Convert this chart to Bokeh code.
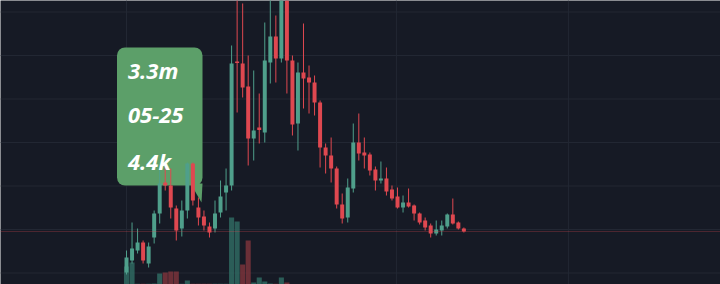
from bokeh.plotting import figure
from bokeh.models import Range1d, Span, BoxAnnotation, PolyAnnotation, Label, ColumnDataSource
from bokeh.embed import file_html
from bokeh.resources import INLINE

# ---- data (market cap in $m, volume in $k) ----
idx = list(range(1, 63))
opens = [0.28, 0.40, 0.50, 0.58, 0.37, 0.63, 0.87, 1.18, 1.15, 0.92,
         0.72, 0.90, 1.37, 0.93, 0.84, 0.74, 0.72, 0.88, 1.08, 1.15,
         2.39, 2.37, 2.14, 1.62, 1.73, 1.68, 2.38, 2.64, 2.42, 3.20,
         2.40, 1.77, 2.28, 2.23, 2.18, 1.98, 1.53, 1.45, 1.32, 0.96,
         0.83, 1.12, 1.58, 1.48, 1.46, 1.31, 1.20, 1.22, 1.11, 1.04,
         0.93, 0.98, 0.95, 0.87, 0.80, 0.75, 0.67, 0.70, 0.74, 0.86,
         0.78, 0.72]
closes = [0.43, 0.52, 0.58, 0.40, 0.54, 0.87, 1.17, 1.15, 0.93, 0.70,
          0.90, 1.37, 1.00, 0.83, 0.75, 0.68, 0.87, 1.04, 1.15, 2.37,
          2.375, 2.13, 1.62, 1.70, 1.705, 2.40, 2.64, 2.42, 3.20, 2.40,
          1.76, 2.28, 2.22, 2.18, 1.98, 1.53, 1.45, 1.32, 0.96, 0.82,
          1.13, 1.58, 1.47, 1.45, 1.30, 1.20, 1.22, 1.09, 1.02, 0.93,
          0.98, 0.94, 0.87, 0.78, 0.73, 0.67, 0.71, 0.75, 0.86, 0.77,
          0.72, 0.69]
highs = [0.50, 0.78, 0.72, 0.60, 0.58, 0.90, 1.35, 1.35, 1.32, 0.95,
         1.00, 1.38, 1.38, 1.03, 0.90, 0.78, 1.00, 1.20, 1.32, 2.55,
         3.10, 2.97, 2.45, 2.30, 2.07, 2.78, 3.05, 2.85, 3.40, 3.40,
         2.45, 2.38, 2.77, 2.35, 2.25, 2.00, 1.57, 1.63, 1.34, 1.07,
         1.22, 1.77, 1.87, 1.63, 1.48, 1.34, 1.39, 1.33, 1.15, 1.13,
         1.05, 1.12, 0.96, 0.88, 0.83, 0.77, 0.80, 0.80, 0.87, 1.02,
         0.79, 0.73]
lows = [0.26, 0.37, 0.47, 0.37, 0.33, 0.57, 0.77, 1.10, 0.82, 0.60,
        0.64, 0.82, 0.95, 0.75, 0.70, 0.63, 0.68, 0.83, 0.90, 1.10,
        1.88, 2.03, 1.35, 1.40, 1.57, 1.58, 2.17, 2.18, 2.38, 2.07,
        1.65, 1.50, 1.92, 1.87, 1.85, 1.33, 1.27, 1.18, 0.92, 0.77,
        0.78, 1.08, 1.40, 1.32, 1.25, 1.10, 1.17, 1.05, 1.00, 0.92,
        0.88, 0.93, 0.80, 0.76, 0.70, 0.63, 0.65, 0.65, 0.72, 0.76,
        0.71, 0.68]
volumes = [7.2, 8.8, 0.3, 0.3, 0.3, 0.4, 4.4, 4.8, 5.2, 5.2,
           0.3, 1.6, 0.3, 0.3, 0.3, 0.3, 0.3, 0.3, 0.3, 26.8,
           25.2, 8.0, 17.6, 0.8, 2.8, 1.2, 0.4, 0.3, 2.8, 0.8,
           0.2, 0.2, 0.2, 0.2, 0.2, 0.2, 0.2, 0.2, 0.2, 0.2,
           0.2, 0.2, 0.2, 0.2, 0.2, 0.2, 0.2, 0.2, 0.2, 0.2,
           0.2, 0.2, 0.2, 0.2, 0.2, 0.2, 0.2, 0.2, 0.2, 0.2,
           0.2, 0.2]
h_grid = [0.275, 0.71, 1.145, 1.58, 2.015, 2.45, 2.885]
v_grid = [1, 49.8, 80.9]
tip_lines = ["3.3m", "05-25", "4.4k"]

# ---- styles ----
BG = "#161a25"
GRID = "#222733"
UP = "#4f9f8b"
DOWN = "#df4850"
VOL_UP = "#2f6a61"
VOL_DOWN = "#7a343b"
TIP = "#5c9f69"

up = [c >= o for o, c in zip(opens, closes)]
vol_up = [closes[0] >= opens[0]] + [closes[i] >= closes[i - 1] for i in range(1, len(closes))]

src = ColumnDataSource(dict(
    x=idx, o=opens, c=closes, h=highs, l=lows, v=volumes,
    top=[max(a, b) for a, b in zip(opens, closes)],
    bot=[min(a, b) for a, b in zip(opens, closes)],
    col=[UP if u else DOWN for u in up],
    vcol=[VOL_UP if u else VOL_DOWN for u in vol_up],
))

p = figure(width=720, height=284, output_backend="svg", toolbar_location=None,
           x_range=Range1d(-21.785, 108.4), y_range=Range1d(0.16, 3.00),
           x_axis_type=None, y_axis_type=None, min_border=0,
           background_fill_color=BG, border_fill_color=BG, outline_line_color=None)
p.extra_y_ranges = {"vol": Range1d(0, 113.6)}

for g in h_grid:
    p.add_layout(Span(location=g, dimension="width", line_color=GRID, line_width=1, level="underlay"))
for g in v_grid:
    p.add_layout(Span(location=g, dimension="height", line_color=GRID, line_width=1, level="underlay"))

# tooltip box behind candles
p.add_layout(BoxAnnotation(left=-0.72, right=14.74, top=2.53, bottom=1.15,
                           fill_color=TIP, fill_alpha=1.0, line_color=None,
                           border_radius=8, level="underlay"))
p.add_layout(PolyAnnotation(xs=[12.57, 14.74, 14.56], ys=[1.17, 1.17, 0.98],
                            fill_color=TIP, fill_alpha=1.0, line_color=None, level="underlay"))

p.vbar(x="x", width=0.92, top="v", bottom=0, fill_color="vcol", line_color=None,
       fill_alpha=0.85, source=src, y_range_name="vol")
p.segment(x0="x", y0="h", x1="x", y1="l", line_color="col", line_width=1, source=src)
p.vbar(x="x", width=0.72, top="top", bottom="bot", fill_color="col", line_color=None, source=src)

p.add_layout(Span(location=closes[-1], dimension="width", line_color=DOWN, line_alpha=0.55,
                  line_width=1, line_dash="1 1"))

for t, yy in zip(tip_lines, [2.305, 1.855, 1.40]):
    p.add_layout(Label(x=1.25, y=yy, text=t, text_color="white", text_font="Open Sans",
                       text_font_style="bold italic", text_font_size="22px",
                       text_baseline="middle"))

open("out.html", "w").write(file_html(p, INLINE))
